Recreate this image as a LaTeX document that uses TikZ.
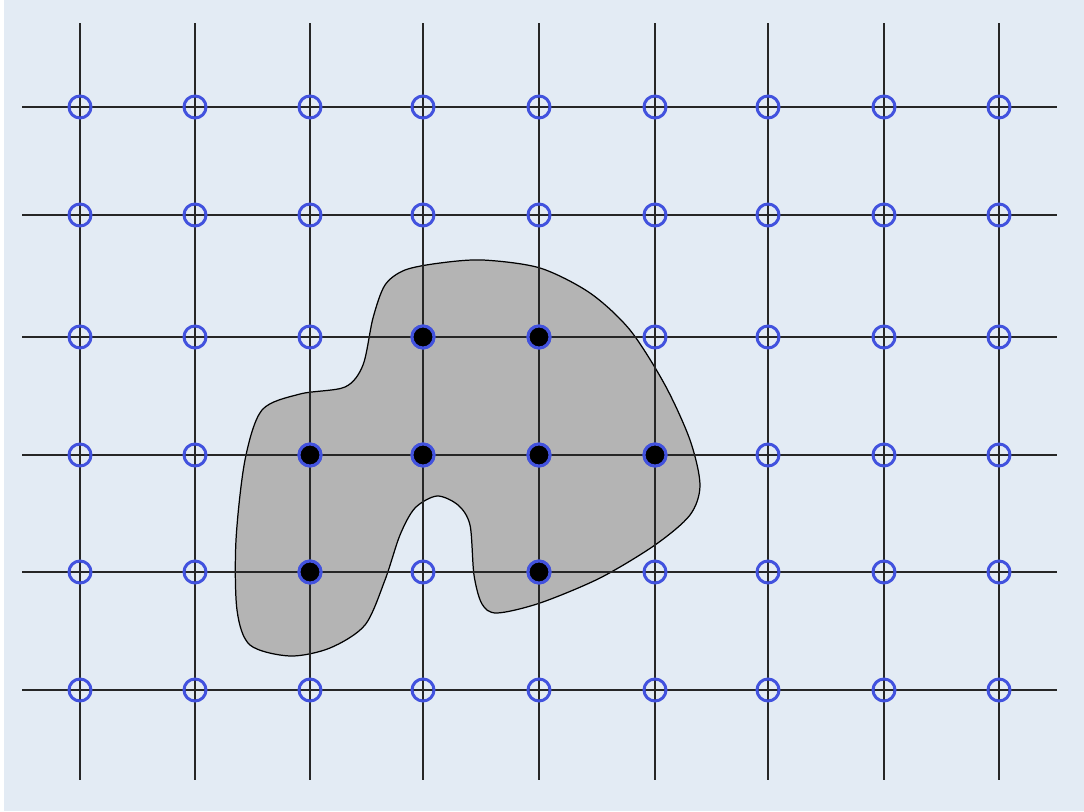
\documentclass[tikz,border=0pt]{standalone}
\usepackage{tikz}
\definecolor{paper}{RGB}{227,235,244}
\definecolor{latblue}{RGB}{66,82,222}
\definecolor{blobgray}{RGB}{180,180,180}
\begin{document}
\begin{tikzpicture}[x=0.01cm,y=-0.01cm,
  gridline/.style={black!85,line width=0.35pt},
  lpoint/.style={circle,draw=latblue,line width=0.85pt,minimum size=0.22cm,inner sep=0pt},
  inpoint/.style={lpoint,fill=black}]
  \useasboundingbox (0,0) rectangle (1084,811);
  \fill[paper] (4,0) rectangle (1084,811);
  % The region, a smooth closed curve through hand-picked points.
  \draw[fill=blobgray,line width=0.35pt] plot[smooth cycle,tension=0.5] coordinates {
    (440,263) (483,260) (540,268) (590,293) (630,330) (665,385) (690,440)
    (700,485) (690,515) (655,545) (600,578) (540,603) (497,613) (482,604)
    (474,575) (470,525) (458,505) (437,496) (415,508) (400,535) (385,580)
    (365,625) (330,648) (290,656) (250,645) (237,610) (236,540) (245,460)
    (262,410) (300,394) (345,387) (363,365) (373,318) (385,285) (405,270)};
  % The lattice lines.
  \foreach \x in {80,195,310,423,539,655,768,884,999}
    \draw[gridline] (\x,23) -- (\x,780);
  \foreach \y in {107,215,337,455,572,690}
    \draw[gridline] (22,\y) -- (1057,\y);
  % Lattice points; the ones inside the region are filled.
  \foreach \x [count=\i from 0] in {80,195,310,423,539,655,768,884,999}
    \foreach \y [count=\j from 0] in {107,215,337,455,572,690}
      \node[lpoint] (p\i-\j) at (\x,\y) {};
  \foreach \i/\j in {3/2,4/2,2/3,3/3,4/3,5/3,2/4,4/4}
    \node[inpoint] (q\i-\j) at (p\i-\j) {};
\end{tikzpicture}
\end{document}
